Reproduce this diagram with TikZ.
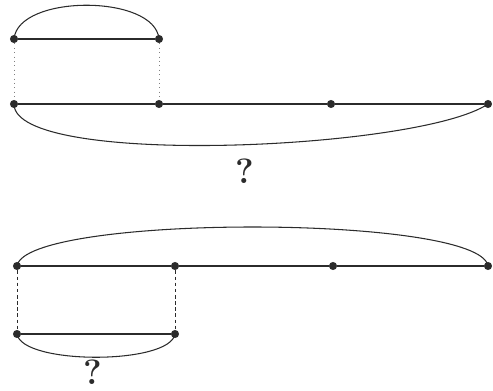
\documentclass[tikz,border=0pt]{standalone}
\usepackage{tikz}
\usetikzlibrary{arrows.meta,positioning,calc}
\definecolor{Ink}{HTML}{2B2B2B}

\tikzset{
  pt/.style={circle,fill=Ink,inner sep=0pt,minimum size=4.6pt},
  seg/.style={Ink,line width=1.7pt},
  brace/.style={Ink,line width=0.6pt},
  guide/.style={gray,line width=0.5pt},
  qmark/.style={font=\fontsize{20}{20}\selectfont\bfseries,Ink,inner sep=0pt}
}

\begin{document}
\begin{tikzpicture}[x=0.02cm,y=-0.02cm]
  \useasboundingbox (0,0) rectangle (493,391);
  % upper figure
  \node[pt] (a1) at (14,39) {};
  \node[pt] (a2) at (159,39) {};
  \node[pt] (b1) at (14,104) {};
  \node[pt] (b2) at (159,104) {};
  \node[pt] (b3) at (331,104) {};
  \node[pt] (b4) at (488,104) {};
  \draw[seg] (a1) -- (a2);
  \draw[seg] (b1) -- (b2) -- (b3) -- (b4);
  \draw[guide,dotted] (a1) -- (b1);
  \draw[guide,dotted] (a2) -- (b2);
  \draw[brace] (a1.center) .. controls (18,-6) and (155,-6) .. (a2.center);
  \draw[brace] (b1.center) .. controls (14,168) and (420,150) .. (b4.center);
  \node[qmark] (q1) at (245,171) {?};
  % lower figure
  \node[pt] (c1) at (17,266) {};
  \node[pt] (c2) at (175,266) {};
  \node[pt] (c3) at (333,266) {};
  \node[pt] (c4) at (488,266) {};
  \node[pt] (d1) at (17,334) {};
  \node[pt] (d2) at (175,334) {};
  \draw[seg] (c1) -- (c2) -- (c3) -- (c4);
  \draw[seg] (d1) -- (d2);
  \draw[Ink,line width=0.5pt,dash pattern=on 2pt off 1.5pt] (c1) -- (d1);
  \draw[Ink,line width=0.5pt,dash pattern=on 2pt off 1.5pt] (c2) -- (d2);
  \draw[brace] (c1.center) .. controls (25,214) and (480,214) .. (c4.center);
  \draw[brace] (d1.center) .. controls (22,365) and (170,365) .. (d2.center);
  \node[qmark] (q2) at (93,372) {?};
\end{tikzpicture}
\end{document}
